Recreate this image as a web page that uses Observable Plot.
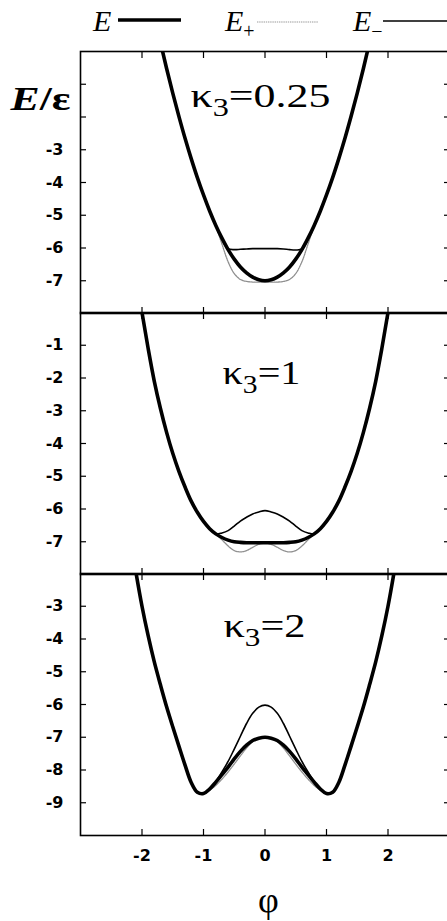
<!DOCTYPE html>
<html>
<head>
<meta charset="utf-8">
<script src="https://cdn.jsdelivr.net/npm/d3@7"></script>
<script src="https://cdn.jsdelivr.net/npm/@observablehq/plot@0.6"></script>
<style>
  html, body { margin: 0; padding: 0; background: #fff; overflow: hidden; }
  #chart { position: relative; width: 447px; height: 921px; overflow: hidden; background: #fff; }
  #chart > svg { position: absolute; left: 0; }
</style>
</head>
<body>
<div id="chart"></div>
<script>
// Phase grid (full curve) and the inner grid where E+ and E- split off from E
const phi = [-2.2,-2.1,-2.0,-1.9,-1.8,-1.7,-1.6,-1.5,-1.4,-1.3,-1.2,-1.1,-1.0,-0.9,-0.8,-0.7,-0.6,-0.5,-0.4,-0.3,-0.2,-0.1,0,
             0.1,0.2,0.3,0.4,0.5,0.6,0.7,0.8,0.9,1.0,1.1,1.2,1.3,1.4,1.5,1.6,1.7,1.8,1.9,2.0,2.1,2.2];
const phiCore = [-1.2,-1.1,-1.0,-0.9,-0.8,-0.7,-0.6,-0.5,-0.4,-0.3,-0.2,-0.1,0,
                 0.1,0.2,0.3,0.4,0.5,0.6,0.7,0.8,0.9,1.0,1.1,1.2];

// Coupling values, one per panel
const kappa3 = ["0.25", "1", "2"];

// kappa3 = 0.25
const energyA = [4.8,3.8,2.85,1.95,1.10,0.28,-0.52,-1.27,-1.98,-2.65,-3.27,-3.85,-4.38,-4.87,-5.31,-5.70,-6.05,-6.34,-6.58,-6.76,-6.89,-6.97,-7.00,
                 -6.97,-6.89,-6.76,-6.58,-6.34,-6.05,-5.70,-5.31,-4.87,-4.38,-3.85,-3.27,-2.65,-1.98,-1.27,-0.52,0.28,1.10,1.95,2.85,3.8,4.8];
const energyPlusA = [-3.27,-3.85,-4.38,-4.87,-5.33,-5.88,-6.42,-6.78,-6.96,-7.02,-7.04,-7.04,-7.04,
                     -7.04,-7.04,-7.02,-6.96,-6.78,-6.42,-5.88,-5.33,-4.87,-4.38,-3.85,-3.27];
const energyMinusA = [-3.27,-3.85,-4.38,-4.87,-5.31,-5.72,-6.02,-6.05,-6.04,-6.03,-6.02,-6.02,-6.02,
                      -6.02,-6.02,-6.03,-6.05,-6.06,-6.03,-5.72,-5.31,-4.87,-4.38,-3.85,-3.27];

// kappa3 = 1
const energyB = [2.5,1.2,0.0,-1.10,-2.10,-2.93,-3.66,-4.30,-4.85,-5.33,-5.76,-6.10,-6.38,-6.60,-6.76,-6.87,-6.95,-7.00,-7.02,-7.03,-7.03,-7.03,-7.03,
                 -7.03,-7.03,-7.03,-7.02,-7.00,-6.95,-6.87,-6.76,-6.60,-6.38,-6.10,-5.76,-5.33,-4.85,-4.30,-3.66,-2.93,-2.10,-1.10,0.0,1.2,2.5];
const energyPlusB = [-5.76,-6.10,-6.38,-6.60,-6.77,-6.94,-7.13,-7.27,-7.31,-7.27,-7.17,-7.08,-7.04,
                     -7.08,-7.17,-7.27,-7.31,-7.27,-7.13,-6.94,-6.77,-6.60,-6.38,-6.10,-5.76];
const energyMinusB = [-5.76,-6.10,-6.38,-6.60,-6.76,-6.73,-6.66,-6.52,-6.37,-6.25,-6.15,-6.09,-6.05,
                      -6.09,-6.15,-6.25,-6.37,-6.52,-6.66,-6.73,-6.76,-6.60,-6.38,-6.10,-5.76];

// kappa3 = 2
const energyC = [-0.8,-1.95,-3.00,-3.90,-4.70,-5.40,-6.07,-6.68,-7.27,-7.85,-8.38,-8.68,-8.72,-8.58,-8.37,-8.14,-7.91,-7.66,-7.43,-7.24,-7.10,-7.03,-7.00,
                 -7.03,-7.10,-7.24,-7.43,-7.66,-7.91,-8.14,-8.37,-8.58,-8.72,-8.68,-8.38,-7.85,-7.27,-6.68,-6.07,-5.40,-4.70,-3.90,-3.00,-1.95,-0.8];
const energyPlusC = [-8.38,-8.68,-8.73,-8.62,-8.47,-8.28,-8.06,-7.82,-7.57,-7.33,-7.14,-7.04,-7.01,
                     -7.04,-7.14,-7.33,-7.57,-7.82,-8.06,-8.28,-8.47,-8.62,-8.73,-8.68,-8.38];
const energyMinusC = [-8.38,-8.68,-8.72,-8.58,-8.36,-8.06,-7.74,-7.36,-6.97,-6.58,-6.27,-6.08,-6.02,
                      -6.08,-6.27,-6.58,-6.97,-7.36,-7.74,-8.06,-8.36,-8.58,-8.72,-8.68,-8.38];

// Axis settings per panel
const yDomains = [[-8, 0], [-8, 0], [-10, -2]];
const yTickValues = [[-1,-2,-3,-4,-5,-6,-7], [-1,-2,-3,-4,-5,-6,-7], [-3,-4,-5,-6,-7,-8,-9]];
const yTickLabels = [[-3,-4,-5,-6,-7], [-1,-2,-3,-4,-5,-6,-7], [-3,-4,-5,-6,-7,-8,-9]];
const xTickValues = [-2, -1, 0, 1, 2];

// Legend entries
const seriesNames = ["E", "E", "E"];
const seriesSubs = ["", "+", "\u2212"];

const panels = [
  {kappa: kappa3[0], E: energyA, Ep: energyPlusA, Em: energyMinusA, yDomain: yDomains[0], yTicks: yTickValues[0], yLabels: yTickLabels[0]},
  {kappa: kappa3[1], E: energyB, Ep: energyPlusB, Em: energyMinusB, yDomain: yDomains[1], yTicks: yTickValues[1], yLabels: yTickLabels[1]},
  {kappa: kappa3[2], E: energyC, Ep: energyPlusC, Em: energyMinusC, yDomain: yDomains[2], yTicks: yTickValues[2], yLabels: yTickLabels[2]}
];

const chart = document.getElementById("chart");
const frameTops = [51, 312, 573];
const plotH = 262;
const labelShift = [{dx: -4.5, dy: 44.5, len: 140}, {dx: -3.5, dy: 60.5, len: 78}, {dx: -0.5, dy: 53, len: 82}];
const serif = "'Liberation Serif', 'Times New Roman', serif";
const sans = "'DejaVu Sans', sans-serif";
const tickFont = {fontFamily: sans, fontSize: 16, fontWeight: "bold"};

panels.forEach((p, i) => {
  const last = i === panels.length - 1;
  const mTop = 6;
  const mBottom = last ? 86 : 6;
  const full = phi.map((x, j) => ({phi: x, E: p.E[j]}));
  const plus = phiCore.map((x, j) => ({phi: x, E: p.Ep[j]}));
  const minus = phiCore.map((x, j) => ({phi: x, E: p.Em[j]}));
  const ls = labelShift[i];

  const marks = [
    Plot.line(plus, {x: "phi", y: "E", stroke: "#8f8f8f", strokeWidth: 1.3, strokeDasharray: "1.6,0.9", curve: "catmull-rom", clip: true}),
    Plot.line(minus, {x: "phi", y: "E", stroke: "#000", strokeWidth: 1.6, curve: "catmull-rom", clip: true}),
    Plot.line(full, {x: "phi", y: "E", stroke: "#000", strokeWidth: 3.6, curve: "catmull-rom", clip: true}),
    Plot.frame({stroke: "#000", strokeWidth: 1.6}),
    Plot.axisX({anchor: "top", ticks: xTickValues, tickSize: -6, tickFormat: () => "", label: null, strokeWidth: 1.2}),
    Plot.axisX({anchor: "bottom", ticks: xTickValues, tickSize: -6, tickPadding: 20,
                tickFormat: last ? (d => `${d}`) : (() => ""), label: null, strokeWidth: 1.2, ...tickFont}),
    Plot.axisY({anchor: "left", ticks: p.yTicks, tickSize: -6, tickPadding: 23,
                tickFormat: d => (p.yLabels.includes(d) ? `${d}` : ""), label: null, strokeWidth: 1.2, ...tickFont}),
    Plot.axisY({anchor: "right", ticks: p.yTicks, tickSize: -6, tickFormat: () => "", label: null, strokeWidth: 1.2}),
    Plot.text([`\u03BA3=${p.kappa}`], {text: d => d, frameAnchor: "top", dx: ls.dx, dy: ls.dy, lineAnchor: "middle",
                fontFamily: serif, fontSize: 34, fill: "#000"})
  ];
  if (i === 0) {
    marks.push(Plot.text(["E/\u03B5"], {text: d => d, frameAnchor: "top-left", textAnchor: "start", dx: -70, dy: 48,
                lineAnchor: "middle", fontFamily: serif, fontSize: 34, fill: "#000"}));
  }
  if (last) {
    marks.push(Plot.text(["\u03C6"], {text: d => d, frameAnchor: "bottom", dx: 3.5, dy: 65, lineAnchor: "middle",
                fontFamily: serif, fontSize: 36, fill: "#000"}));
  }

  const svg = Plot.plot({
    width: 450,
    height: mTop + plotH + mBottom,
    marginLeft: 80, marginRight: 1, marginTop: mTop, marginBottom: mBottom,
    style: {background: "none", maxWidth: "none", overflow: "visible", fontFamily: sans, fontSize: "16px", color: "#000"},
    x: {domain: [-3, 3]},
    y: {domain: p.yDomain},
    marks
  });
  svg.style.top = `${frameTops[i] - mTop}px`;

  // panel label: subscript index on kappa, stretched to the printed width
  d3.select(svg).selectAll("text")
    .filter(function () { return this.textContent.startsWith("\u03BA3="); })
    .each(function () {
      const rest = this.textContent.slice(2);
      const t = d3.select(this).text(null);
      t.append("tspan").text("\u03BA");
      t.append("tspan").attr("dy", 9).attr("font-size", 25).text("3");
      t.append("tspan").attr("dy", -9).text(rest);
      t.attr("textLength", ls.len).attr("lengthAdjust", "spacingAndGlyphs");
    });
  // energy axis title with the italic bold E
  d3.select(svg).selectAll("text")
    .filter(function () { return this.textContent === "E/\u03B5"; })
    .each(function () {
      const t = d3.select(this).text(null);
      t.append("tspan").attr("font-style", "italic").attr("font-weight", "bold").text("E");
      t.append("tspan").attr("font-weight", "bold").text("/\u03B5");
      t.attr("textLength", 60).attr("lengthAdjust", "spacingAndGlyphs");
    });
  chart.appendChild(svg);
});

// Legend row above the panels
const legend = d3.create("svg").attr("width", 447).attr("height", 46).style("top", "0px");
const legendItems = [
  {x: 93, x1: 118, x2: 181, y: 20, stroke: "#000", width: 3.6, dash: null},
  {x: 225, x1: 257, x2: 318, y: 22, stroke: "#9a9a9a", width: 1.1, dash: "1.4,0.8"},
  {x: 353, x1: 383, x2: 447, y: 21, stroke: "#000", width: 1.5, dash: null}
];
legendItems.forEach((it, k) => {
  const t = legend.append("text").attr("x", it.x).attr("y", 31)
    .attr("font-family", serif).attr("font-style", "italic").attr("font-size", 30).attr("fill", "#000");
  t.append("tspan").text(seriesNames[k]);
  if (seriesSubs[k]) t.append("tspan").attr("dy", 7).attr("font-size", 20).attr("font-style", "normal").text(seriesSubs[k]);
  legend.append("line").attr("x1", it.x1).attr("x2", it.x2).attr("y1", it.y).attr("y2", it.y)
    .attr("stroke", it.stroke).attr("stroke-width", it.width).attr("stroke-dasharray", it.dash);
});
chart.appendChild(legend.node());
</script>
</body>
</html>
